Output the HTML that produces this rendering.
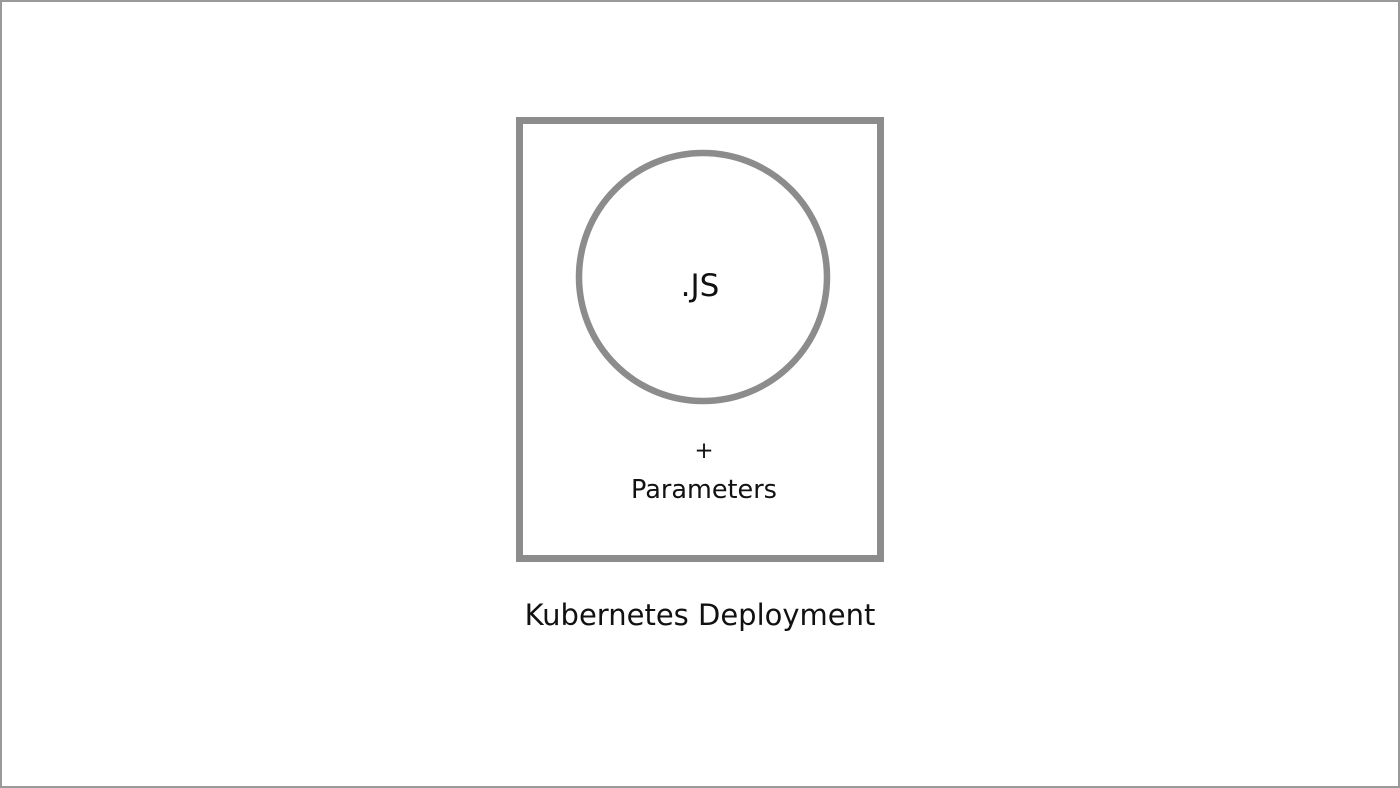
<!DOCTYPE html>
<html><head><meta charset="utf-8"><style>
html,body{margin:0;padding:0;background:#fff}
</style></head><body>
<svg width="1400" height="788" xmlns="http://www.w3.org/2000/svg" style="display:block">
<rect x="1" y="1" width="1398" height="786" fill="#fff" stroke="#9a9a9a" stroke-width="2"/>
<rect x="519.5" y="120.5" width="361" height="438" fill="none" stroke="#8c8c8c" stroke-width="7"/>
<circle cx="703" cy="277" r="124" fill="none" stroke="#8c8c8c" stroke-width="6.5"/>
<g font-family="'DejaVu Sans','Liberation Sans',sans-serif" fill="#111" text-anchor="middle">
<text x="700" y="296" font-size="31">.JS</text>
<text x="704" y="458" font-size="23">+</text>
<text x="704" y="498" font-size="25.5">Parameters</text>
<text x="700" y="625" font-size="29">Kubernetes Deployment</text>
</g>
</svg>
</body></html>
